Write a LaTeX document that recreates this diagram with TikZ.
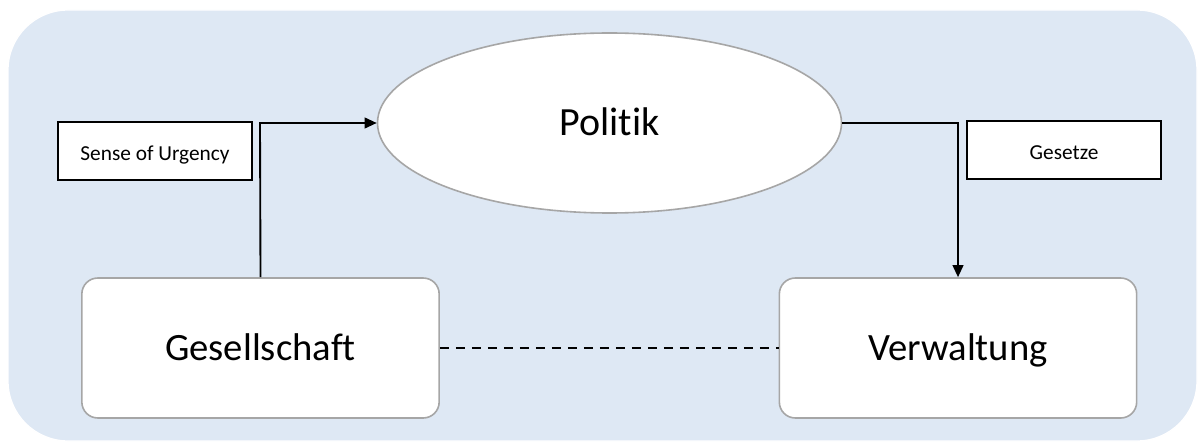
\documentclass[tikz,border=0pt]{standalone}
\usepackage{fontspec}
\setmainfont[Ligatures={NoCommon,NoRequired,NoContextual}]{Carlito}
\usetikzlibrary{shapes.geometric,arrows.meta}
\definecolor{bgblue}{HTML}{DEE8F4}
\definecolor{bordergray}{HTML}{A6A6A6}
\tikzset{
  bigbox/.style={draw=bordergray, line width=1.2pt, fill=white, rounded corners=12pt, minimum width=268pt, minimum height=105pt, font=\fontsize{29pt}{33pt}\selectfont, inner sep=0pt, text height=18.7pt, text depth=0pt},
  labelbox/.style={draw=black, line width=1.4pt, fill=white, minimum width=145pt, minimum height=43pt, font=\fontsize{16pt}{19pt}\selectfont, inner sep=0pt, text height=10.3pt, text depth=0pt},
  ell/.style={ellipse, draw=bordergray, line width=1.2pt, fill=white, minimum width=348pt, minimum height=135pt, font=\fontsize{30pt}{34pt}\selectfont, inner sep=0pt, text height=19.3pt, text depth=0pt},
  conn/.style={draw=black, line width=1.4pt},
  arr/.style={conn, -{Triangle[length=9pt,width=8pt]}}
}
\begin{document}
\begin{tikzpicture}[x=0.75pt,y=-0.75pt]
\useasboundingbox (0,0) rectangle (1198,442);
\fill[bgblue, draw=white, line width=1pt, rounded corners=45pt] (8,10) rectangle (1197,441);
\node[ell] (pol) at (609.5,123) {Politik};
\node[labelbox] (sou) at (155,151) {\raisebox{-2pt}{Sense of Urgency}};
\node[labelbox] (ges) at (1064,150) {\raisebox{-2pt}{Gesetze}};
\node[bigbox] (gesell) at (260.5,348) {Gesellschaft};
\node[bigbox] (verw) at (958,348) {Verwaltung};
\coordinate (lc) at (260,123);
\coordinate (rc) at (958,123);
\draw[arr] (gesell.north) -- (lc) -- (pol.west);
\draw[arr] (pol.east) -- (rc) -- (verw.north);
\draw[conn, dashed, dash pattern=on 7pt off 5pt, line width=1.2pt] (gesell.east) -- (verw.west);
\end{tikzpicture}
\end{document}
